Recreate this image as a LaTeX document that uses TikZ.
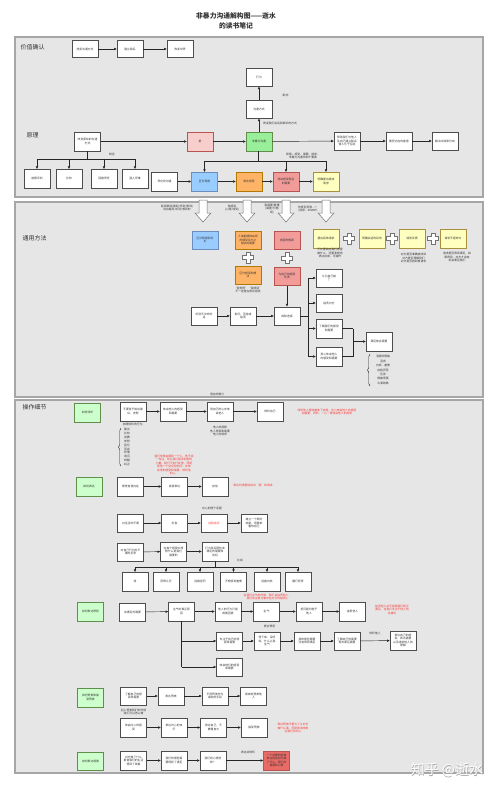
\documentclass[tikz,border=0pt]{standalone}
\usepackage{fontspec}
\newfontfamily\cjk{Noto Sans CJK SC}
\usetikzlibrary{arrows.meta,decorations.pathreplacing}
\definecolor{secfill}{HTML}{E6E6E6}
\definecolor{secline}{HTML}{A6A6A6}
\definecolor{bline}{HTML}{4D4D4D}
\definecolor{cpink}{HTML}{F8CECC}
\definecolor{cgreen}{HTML}{99EE99}
\definecolor{clgreen}{HTML}{CCFFCC}
\definecolor{cblue}{HTML}{99CCFF}
\definecolor{corange}{HTML}{FFB366}
\definecolor{cred}{HTML}{F19C99}
\definecolor{cyellow}{HTML}{FFFFC0}
\definecolor{cdred}{HTML}{EA6B66}
\definecolor{tred}{HTML}{FF3333}
\definecolor{tgray}{HTML}{333333}
\definecolor{pinkline}{HTML}{B85450}
\definecolor{greenline}{HTML}{5F8F4A}
\definecolor{blueline}{HTML}{6C8EBF}
\definecolor{orangeline}{HTML}{B07A00}
\definecolor{yellowline}{HTML}{A89040}
\tikzset{
  bx/.style={draw=bline, fill=white, line width=0.5pt, minimum width=26pt, minimum height=18.5pt, inner sep=0.3pt, align=center, font=\cjk\fontsize{2.8}{3.5}\selectfont, text=tgray},
  lbl/.style={font=\cjk\fontsize{2.8}{3.5}\selectfont, align=center, inner sep=0pt, text=tgray},
  rtxt/.style={lbl, text=tred},
  sec/.style={draw=secline, fill=secfill, line width=1.3pt},
  sectitle/.style={font=\cjk\fontsize{6}{7}\selectfont, text=tgray, anchor=west, inner sep=0pt},
  ar/.style={-{Triangle[length=2.6pt,width=2.2pt]}, line width=0.45pt, draw=black!85},
  ln/.style={line width=0.45pt, draw=black!85},
  gbox/.style={bx, fill=clgreen, draw=greenline},
  obox/.style={bx, fill=corange, draw=orangeline},
  rbox/.style={bx, fill=cred, draw=pinkline},
  ybox/.style={bx, fill=cyellow, draw=yellowline},
  bbox/.style={bx, fill=cblue, draw=blueline},
  pics/dnarrow/.style={code={\draw[draw=black!55, fill=white, line width=0.5pt] (-4,0)--(4,0)--(4,13)--(8,13)--(0,22)--(-8,13)--(-4,13)--cycle;}},
  pics/plussign/.style={code={\draw[draw=black!55, fill=white, line width=0.5pt] (-1.8,-5.5)--(1.8,-5.5)--(1.8,-1.8)--(5.5,-1.8)--(5.5,1.8)--(1.8,1.8)--(1.8,5.5)--(-1.8,5.5)--(-1.8,1.8)--(-5.5,1.8)--(-5.5,-1.8)--(-1.8,-1.8)--cycle;}},
}
\begin{document}
\begin{tikzpicture}[x=1pt,y=-1pt]
\useasboundingbox (0,0) rectangle (500,790);
\fill[white] (0,0) rectangle (500,790);
\node[font=\cjk\bfseries\fontsize{6.8}{10}\selectfont, align=center, text=tgray, inner sep=0pt] (title) at (236,20.5) {非暴力沟通解构图——逝水\\的读书笔记};

\draw[sec] (15,37) rectangle (483,197);
\draw[sec] (15,202) rectangle (483,397);
\draw[sec] (15,400) rectangle (483,773);

\node[sectitle] (s1) at (20.5,47) {价值确认};
\node[sectitle] (s2) at (26.5,135) {原理};
\node[sectitle] (s3) at (22.5,238) {通用方法};
\node[sectitle] (s4) at (22.5,407) {操作细节};

% ---------- value ----------
\node[bx, minimum height=17pt] (v1) at (85,49) {改变沟通方式};
\node[bx, minimum height=17pt] (v2) at (130,49) {建立联系};
\node[bx, minimum height=17pt] (v3) at (180,49) {改变世界};
\draw[ar] (v1) -- (v2);
\draw[ar] (v2) -- (v3);

% ---------- principle ----------
\node[bx] (src) at (87.5,141.5) {改变原有的沟通\\方式};
\node[lbl] (tz) at (112,154) {特征};
\node[bx] (c1) at (37,178.5) {道德评判};
\node[bx] (c2) at (69,178.5) {比较};
\node[bx] (c3) at (104,178.5) {回避责任};
\node[bx] (c4) at (135,178.5) {强人所难};
\coordinate (t0) at (87.5,159);
\draw[ln] (src.south) -- (t0);
\draw[ln] (c1.north |- t0) -- (c4.north |- t0);
\foreach \nd in {c1,c2,c3,c4} \draw[ar] (\nd.north |- t0) -- (\nd.north);

\node[bx, fill=cpink, draw=pinkline] (love) at (200,141.5) {爱};
\node[bx, fill=cgreen, draw=greenline] (nvc) at (259,141.5) {非暴力沟通};
\node[bx] (way) at (259,109) {沟通方式};
\node[bx] (beh) at (259,77) {行为};
\node[lbl] (l1) at (280,123) {改变我们谈话和聆听的方式};
\node[lbl] (l2) at (285.5,95) {影响};
\node[bx] (r1) at (347,141) {帮助我们与他人\\及自己建立联系\\使人乐于互助};
\node[bx] (r2) at (399,141) {重获内在的善意};
\node[bx] (r3) at (445,141) {解决冲突和分歧};
\node[lbl] (l3) at (303,156) {观察、感受、需要、请求，\\非暴力沟通的四个要素};
\draw[ar] (src) -- (love);
\draw[ar] (love) -- (nvc);
\draw[ar] (nvc) -- (way);
\draw[ar] (way) -- (beh);
\draw[ar] (nvc) -- (r1);
\draw[ar] (r1) -- (r2);
\draw[ar] (r2) -- (r3);

\node[bx] (hab) at (164.5,181.5) {异化的沟通};
\node[bbox] (blue) at (204.5,181.5) {区分观察};
\node[obox] (ora) at (249,181.5) {表达感受};
\node[rbox] (red) at (286,181.5) {找出感受背后\\的需要};
\node[ybox] (yel) at (326,181.5) {明确提出具体\\请求};
\coordinate (t1) at (258,161);
\draw[ln] (nvc.south -| t1) -- (t1);
\draw[ln] (blue.north |- t1) -- (yel.north |- t1);
\foreach \nd in {blue,red,yel} \draw[ar] (\nd.north |- t1) -- (\nd.north);
\draw[ar] (hab) -- (blue);
\draw[ar] (blue) -- (ora);
\draw[ar] (ora) -- (red);
\draw[ar] (red) -- (yel);

% ---------- general method ----------
\pic at (203,200) {dnarrow};
\pic at (247,200) {dnarrow};
\pic at (286,200) {dnarrow};
\pic at (326,200) {dnarrow};
\node[lbl] (a1l) at (177,208) {我观察到(看到/听到/想到)\\说出看到/听到/想到的};
\node[lbl] (a2l) at (232,208) {我感到\\(心情/感受)};
\node[lbl] (a3l) at (272,209) {我需要/看重\\(需要/价值\\观)};
\node[lbl] (a4l) at (308,209) {你是否愿意…？\\(请求，SMART)};

\node[bbox] (m1) at (205,240) {区分观察和评\\论};
\node[obox] (m2) at (248,240) {人类能够体会到\\的感受及与之\\相关的需要};
\node[rbox] (m3) at (287,240) {感受的根源};
\pic at (248,257.5) {plussign};
\pic at (287,258) {plussign};
\node[obox] (m4) at (248,275) {区分感受和想\\法};
\node[lbl] (m4l) at (248,290) {“我觉得”“我感到”\\不一定是在表达感受};
\node[rbox] (m5) at (287,276) {为自己的感受\\负责};

\node[ybox] (y1) at (326,238.5) {提出具体请求};
\node[ybox] (y2) at (372,238.5) {明确谈话的目的};
\node[ybox] (y3) at (412,238.5) {请求反馈};
\node[ybox] (y4) at (453,238.5) {请求不是命令};
\pic at (349,238.5) {plussign};
\pic at (392,238.5) {plussign};
\pic at (433,238.5) {plussign};
\node[lbl] (y1l) at (330,253) {不仅要说出我们希望\\做什么，还要清楚地\\表达出来，可操作};
\node[lbl] (y3l) at (413.5,258) {对方是否准确接收到\\对方是否理解我们\\对方是否感到被请求};
\node[lbl] (y4l) at (457,257) {请求是否得到满足，如\\果得到，对方才会有\\机会满足我们};

\node[bx] (p1) at (204,316) {听到不中听的\\话};
\node[bx] (p2) at (243,316) {批评、否定或\\指责};
\node[bx] (p3) at (287,316) {四种选择};
\draw[ar] (p1) -- (p2);
\draw[ar] (p2) -- (p3);
\draw[ar] (m5) -- (p3);
\node[bx] (o1) at (329,278) {认为自己错\\了};
\node[bx] (o2) at (329,303) {指责对方};
\node[bx] (o3) at (329,328.5) {了解我们的感受\\和需要};
\node[bx] (o4) at (329,356.5) {用心体会他人\\的感受和需要};
\coordinate (vx) at (308,316);
\draw[ln] (p3.east) -- (vx);
\draw[ln] (vx |- o1) -- (vx |- o4);
\foreach \nd in {o1,o2,o3,o4} \draw[ar] (vx |- \nd) -- (\nd.west);
\node[bx] (sat) at (379,341.5) {满足彼此需要};
\coordinate (mx) at (353,341.5);
\draw[ln] (o3.east) -- (mx |- o3);
\draw[ln] (o4.east) -- (mx |- o4);
\draw[ln] (mx |- o3) -- (mx |- o4);
\draw[ar] (mx) -- (sat.west);
\draw[ln, decorate, decoration={brace, amplitude=2.5pt}] (370,386) -- (370,354);
\node[lbl, font=\cjk\fontsize{2.8}{4.4}\selectfont] (lst1) at (383,370) {消极的情绪\\沮丧\\内疚、羞愧\\自我厌恶\\压抑\\情绪低落\\冷漠疏离};
\node[lbl] (bt) at (217,394) {语言的暴力};

% ---------- operation details ----------
\node[gbox] (g1) at (87.5,412.5) {如何倾听};
\node[bx] (b11) at (133,411.5) {不要急于给出建\\议、安慰};
\node[bx] (b12) at (173,411.5) {体会他人的感受\\和需要};
\node[bx] (b13) at (220,411.5) {用自己的心去体\\会他人};
\node[bx] (b14) at (270,411.5) {倾听自己};
\draw[ar] (b11) -- (b12);
\draw[ar] (b12) -- (b13);
\draw[ar] (b13) -- (b14);
\node[rtxt] (rt1) at (327,412) {倾听他人意味着放下自我，全心体会他人的感受\\和需要；同时，一心一意体会他人的感受};
\node[lbl] (lt1) at (134,424.5) {妨碍倾听的行为：};
\draw[ln, decorate, decoration={brace, amplitude=2.5pt}] (121,466) -- (121,428);
\node[lbl, font=\cjk\fontsize{2.8}{3.95}\selectfont] (lst2) at (127,447) {建议\\比较\\说教\\安慰\\回忆\\否定\\同情\\询问\\辩解\\纠正};
\node[lbl] (b13l) at (220,431) {他人的观察\\他人感受和需要\\他人的请求};
\node[rtxt, font=\cjk\fontsize{2.8}{3.4}\selectfont] (rt2) at (174,465) {我们常常会遇到一个人，他不说\\一句话，却让我们感受到他的\\力量。我们不去打扰他，而是\\给他一个空间和时间，去体\\会他的感受和需要，倾听他\\的心。};

\node[gbox] (g2) at (89,486.5) {如何表达};
\node[bx] (b21) at (130.5,486.5) {察觉自我内在};
\node[bx] (b22) at (174.5,486.5) {自我表达};
\node[bx] (b23) at (215,486.5) {自信};
\draw[ar] (b21) -- (b22);
\draw[ar] (b22) -- (b23);
\node[rtxt] (rt3) at (253,485) {表达时清楚地说出“我”的请求};
\node[lbl] (l21) at (212,508) {内心的两个话题};

\node[bx] (b31) at (130.5,523) {对生活的不满};
\node[bx] (b32) at (174.5,523) {反省};
\node[bx, text=tred] (b33) at (214,523) {自我批评};
\node[bx] (b34) at (254,523) {建立一个新的\\态度，用爱来\\看待自己};
\draw[ar] (b31) -- (b32);
\draw[ar] (b32) -- (b33);
\draw[ar] (b33) -- (b34);

\node[bx] (b41) at (130.5,552) {对自己行为的不\\满的反思};
\node[bx] (b42) at (173.5,551.5) {在每个感受中想\\想什么是我们\\需要的};
\node[bx] (b43) at (215,551.5) {行为背后那些未\\满足的需要和\\动机};
\draw[ar] (b41) -- (b42);
\draw[ar] (b42) -- (b43);
\node[lbl] (l41) at (240,560) {比如};
\node[bx] (k1) at (135,581.5) {钱};
\node[bx] (k2) at (166,581.5) {获得认可};
\node[bx] (k3) at (200,581.5) {逃避惩罚};
\node[bx] (k4) at (233.5,581.5) {不想感到羞愧};
\node[bx] (k5) at (267,581.5) {逃避内疚};
\node[bx] (k6) at (298,581.5) {履行职责};
\coordinate (t4) at (215,567);
\draw[ln] (b43.south) -- (t4);
\draw[ln] (k1.north |- t4) -- (k6.north |- t4);
\foreach \nd in {k1,k2,k3,k4,k5,k6} \draw[ar] (\nd.north |- t4) -- (\nd.north);

\node[gbox] (g3) at (90.5,611.5) {如何表达愤怒};
\node[bx] (b51) at (132.5,612) {未满足的需要};
\node[bx] (b52) at (181.5,611.5) {生气的真正原\\因};
\node[bx] (b53) at (228,611.5) {他人的行为只是\\刺激因素};
\node[bx] (b54) at (266.5,611.5) {生气};
\node[bx] (b55) at (309,611.5) {把问题归咎于\\他人};
\node[bx] (b56) at (352.5,611.5) {指责他人};
\draw[ar] (b51) -- (b52);
\draw[ar] (b52) -- (b53);
\draw[ar] (b53) -- (b54);
\draw[ar] (b54) -- (b55);
\draw[ar] (b55) -- (b56);
\node[rtxt] (rt4) at (267.5,597) {当我们生气的时候，我们会指责他人，\\我们的注意力集中在对方的错误上};
\node[rtxt] (rt5) at (392,609.5) {指责他人并不能使我们真正\\满足，当我们专注于他人的\\过错时};
\node[lbl] (l51) at (269.5,626) {表达愤怒};

\node[bx] (b61) at (229.5,641) {专注于自己的感\\受和需要};
\node[bx] (b62) at (267,641) {停下来，深呼\\吸，什么让我\\生气};
\node[bx] (b63) at (307,641) {我的哪些需要\\没有得到满足};
\node[bx] (b64) at (347,641) {了解自己的需要\\再去满足需要};
\node[bx] (b65) at (403,640.5) {表达自己的感\\受，表达需要\\以及请求他人的\\理解};
\node[lbl] (l61) at (375,633) {倾听他人};
\node[bx] (b71) at (229.5,667) {体会他们的感受\\和需要};
\draw[ln] (b52.south) -- (b52.south |- b71);
\draw[ar] (b52.south |- b61) -- (b61.west);
\draw[ar] (b52.south |- b71) -- (b71.west);
\draw[ar] (b61) -- (b62);
\draw[ar] (b62) -- (b63);
\draw[ar] (b63) -- (b64);
\draw[ar] (b64) -- (b65);

\node[gbox] (g4) at (90.5,697.5) {如何赞美和接\\受赞美};
\node[bx] (b81) at (133.5,696) {了解自己的感\\受和需要};
\node[bx] (b82) at (171,696) {表达赞美};
\node[bx] (b83) at (215,696) {不用赞美作为\\操控的手段};
\node[bx] (b84) at (253.5,696) {真诚地赞美他\\人};
\draw[ar] (b81) -- (b82);
\draw[ar] (b82) -- (b83);
\draw[ar] (b83) -- (b84);
\node[lbl] (l81) at (133.5,712) {别人赞美我们的时候\\我们可以怎么做};

\node[bx] (b91) at (133.5,727.5) {体会内心的感\\受};
\node[bx] (b92) at (174,727.5) {表达内心的快\\乐};
\node[bx] (b93) at (213.5,727.5) {表达自己，不\\傲慢自大};
\node[bx] (b94) at (254,727.5) {接受赞美};
\draw[ar] (b91) -- (b92);
\draw[ar] (b92) -- (b93);
\draw[ar] (b93) -- (b94);
\node[rtxt] (rt6) at (293,728) {表达赞美不是为了让对方\\做什么事，而是真诚地表\\达我们的内心};

\node[gbox] (g5) at (90.5,761) {如何表达感激};
\node[bx] (b101) at (133.5,760.5) {对方做了什么\\事使我们的生活\\得到了改善};
\node[bx] (b102) at (174,760.5) {我们的哪些需\\要得到了满足};
\node[bx] (b103) at (213,760.5) {我们的心情怎\\样？};
\node[bx, fill=cdred, draw=pinkline] (b104) at (276.5,760.5) {一个完整的感激\\表达包含对方做\\了什么、我们的\\需要和心情};
\draw[ar] (b101) -- (b102);
\draw[ar] (b102) -- (b103);
\draw[ar] (b103) -- (b104);
\node[lbl] (l101) at (248,752) {表达并倾听};

\node[font=\cjk\fontsize{14}{14}\selectfont, text=black!35, inner sep=0pt] (wm0) at (447.5,770.5) {知乎 @逝水};
\node[font=\cjk\fontsize{14}{14}\selectfont, text=white, inner sep=0pt] (wm) at (447,770) {知乎 @逝水};
\end{tikzpicture}
\end{document}
